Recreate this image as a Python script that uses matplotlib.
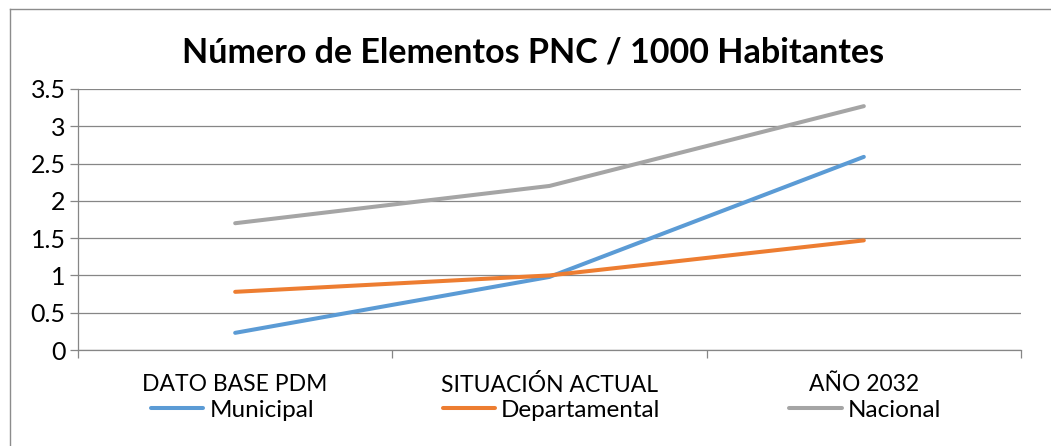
import matplotlib
matplotlib.use("Agg")
import matplotlib.pyplot as plt
from matplotlib.lines import Line2D

plt.rcParams['font.family'] = ['Lato', 'DejaVu Sans']

# ── Data ─────────────────────────────────────────────
categorias = ['DATO BASE PDM', 'SITUACIÓN ACTUAL', 'AÑO 2032']
municipal = [0.23, 0.98, 2.59]
departamental = [0.78, 1.00, 1.47]
nacional = [1.70, 2.20, 3.27]

series = [
    ('Municipal', municipal, '#5B9BD5'),
    ('Departamental', departamental, '#ED7D31'),
    ('Nacional', nacional, '#A5A5A5'),
]

W, H = 1051, 446
fig = plt.figure(figsize=(W / 100, H / 100), dpi=100, facecolor='white')
ax = fig.add_axes([78 / W, 1 - 350 / H, (1021 - 78) / W, (350 - 89) / H])

x = list(range(len(categorias)))
for nombre, vals, color in series:
    ax.plot(x, vals, color=color, lw=2.9, label=nombre, solid_capstyle='round')

# ── Axes styling (Excel look) ────────────────────────
grid_c = '#868686'
ax.set_xlim(-0.5, len(categorias) - 0.5)
ax.set_ylim(0, 3.5)
ax.set_yticks([0, 0.5, 1, 1.5, 2, 2.5, 3, 3.5])
ax.set_yticklabels(['0', '0.5', '1', '1.5', '2', '2.5', '3', '3.5'])
ax.yaxis.grid(True, color=grid_c, lw=0.9)
ax.set_axisbelow(True)
for s in ['top', 'right']:
    ax.spines[s].set_visible(False)
for s in ['left', 'bottom']:
    ax.spines[s].set_color(grid_c)
    ax.spines[s].set_linewidth(0.9)

ax.tick_params(axis='y', length=6, color=grid_c, width=0.9, labelsize=18, pad=3)
ax.set_xticks([-0.5, 0.5, 1.5, 2.5])
ax.set_xticklabels([])
ax.tick_params(axis='x', which='major', length=6, color=grid_c, width=0.9)
ax.set_xticks(x, minor=True)
ax.set_xticklabels(categorias, minor=True)
ax.tick_params(axis='x', which='minor', length=0, labelsize=16.5, pad=17)

fig.text(533 / W, 1 - 53 / H, 'Número de Elementos PNC / 1000 Habitantes',
         ha='center', va='center', fontsize=24.5, fontweight='bold')

fig.legend(loc='center', bbox_to_anchor=(546 / W, 1 - 410 / H), ncol=3,
           frameon=False, fontsize=17.5, handlelength=2.15, handletextpad=0.25,
           columnspacing=5.3, borderpad=0)

# chart frame
fig.add_artist(Line2D([10 / W, 10 / W], [0, 1 - 9 / H], color='#8c8c8c', lw=1))
fig.add_artist(Line2D([10 / W, 1], [1 - 9 / H, 1 - 9 / H], color='#8c8c8c', lw=1))

fig.savefig('out.png', dpi=100, facecolor='white')
